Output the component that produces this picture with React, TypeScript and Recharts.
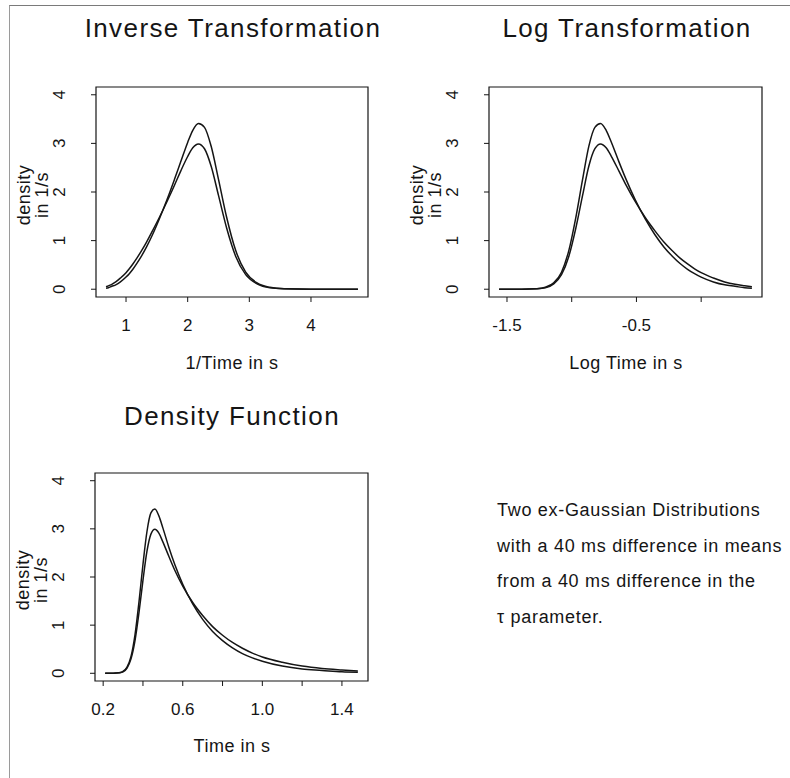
import React from 'react';
import { LineChart, Line, XAxis, YAxis, ReferenceArea } from 'recharts';

const TIME_S = [0.21, 0.25, 0.28, 0.30, 0.32, 0.34, 0.36, 0.38, 0.40, 0.42, 0.44, 0.46, 0.48, 0.50, 0.53, 0.56, 0.60, 0.65, 0.70, 0.75, 0.80, 0.85, 0.90, 0.95, 1.00, 1.10, 1.20, 1.30, 1.40, 1.48];
const INV_TIME = [4.762, 4.0, 3.571, 3.333, 3.125, 2.941, 2.778, 2.632, 2.5, 2.381, 2.273, 2.174, 2.083, 2.0, 1.887, 1.786, 1.667, 1.538, 1.429, 1.333, 1.25, 1.176, 1.111, 1.053, 1.0, 0.909, 0.833, 0.769, 0.714, 0.676];
const LOG_TIME = [-1.561, -1.386, -1.273, -1.204, -1.139, -1.079, -1.022, -0.968, -0.916, -0.868, -0.821, -0.777, -0.734, -0.693, -0.635, -0.580, -0.511, -0.431, -0.357, -0.288, -0.223, -0.163, -0.105, -0.051, 0.0, 0.095, 0.182, 0.262, 0.336, 0.392];
const DENSITY_A = [0.00, 0.00, 0.01, 0.04, 0.13, 0.35, 0.80, 1.48, 2.26, 2.94, 3.33, 3.41, 3.27, 3.02, 2.62, 2.26, 1.85, 1.44, 1.12, 0.87, 0.68, 0.53, 0.41, 0.32, 0.25, 0.15, 0.09, 0.06, 0.03, 0.02];
const DENSITY_B = [0.00, 0.00, 0.01, 0.03, 0.11, 0.30, 0.68, 1.26, 1.93, 2.53, 2.89, 2.99, 2.91, 2.73, 2.43, 2.14, 1.81, 1.47, 1.20, 0.97, 0.79, 0.64, 0.52, 0.42, 0.34, 0.23, 0.15, 0.10, 0.07, 0.05];

const Y_TICKS = [0, 1, 2, 3, 4];
const INV_TICKS = [1, 2, 3, 4];
const INV_TICK_LABELS = ['1', '2', '3', '4'];
const LOG_TICKS = [-1.5, -1.0, -0.5, 0];
const LOG_TICK_LABELS = ['-1.5', '', '-0.5', ''];
const TIME_TICKS = [0.2, 0.4, 0.6, 0.8, 1.0, 1.2, 1.4];
const TIME_TICK_LABELS = ['0.2', '', '0.6', '', '1.0', '', '1.4'];

const NOTE_LINES = [
    'Two ex-Gaussian Distributions',
    'with a 40 ms difference in means',
    'from a 40 ms difference in the',
    '\u03c4 parameter.',
];

const FONT = '"Liberation Sans", Arial, Helvetica, sans-serif';
const INK = '#151515';
const Y_DOMAIN: [number, number] = [-0.16, 4.16];

const YTick = (props: any) => {
    const { x, y, payload } = props;
    return (
        <text x={x} y={y} transform={`rotate(-90 ${x} ${y})`} textAnchor="middle"
            fontSize={17} fontFamily={FONT} fill={INK}>
            {payload.value}
        </text>
    );
};

const makeXTick = (ticks: number[], labels: string[]) => (props: any) => {
    const { x, y, payload } = props;
    const i = ticks.findIndex(t => Math.abs(t - payload.value) < 1e-6);
    const label = i >= 0 ? labels[i] : '';
    return (
        <text x={x} y={y} textAnchor="middle" fontSize={17} fontFamily={FONT} fill={INK}>
            {label}
        </text>
    );
};

interface PanelProps {
    boxLeft: number;
    boxTop: number;
    boxRight: number;
    boxBottom: number;
    xs: number[];
    xDomain: [number, number];
    xTicks: number[];
    xTickLabels: string[];
}

function Panel({ boxLeft, boxTop, boxRight, boxBottom, xs, xDomain, xTicks, xTickLabels }: PanelProps) {
    const padL = 60, padT = 10, padR = 12, axisH = 45, padB = 5;
    const width = padL + (boxRight - boxLeft) + padR;
    const height = padT + (boxBottom - boxTop) + axisH + padB;
    const rows = xs
        .map((x, i) => ({ x, a: DENSITY_A[i], b: DENSITY_B[i] }))
        .sort((p, q) => p.x - q.x);

    return (
        <div style={{ position: 'absolute', left: boxLeft - padL, top: boxTop - padT }}>
            <LineChart width={width} height={height} data={rows}
                margin={{ top: padT, right: padR, bottom: padB, left: 0 }}>
                <XAxis dataKey="x" type="number" domain={xDomain} ticks={xTicks} interval={0}
                    allowDataOverflow axisLine={false} stroke={INK} tickSize={5} tickMargin={29}
                    height={axisH} tick={makeXTick(xTicks, xTickLabels)} />
                <YAxis type="number" domain={Y_DOMAIN} ticks={Y_TICKS} interval={0} allowDataOverflow
                    width={padL} axisLine={false} stroke={INK} tickSize={5} tickMargin={26}
                    tick={<YTick />} />
                <ReferenceArea x1={xDomain[0]} x2={xDomain[1]} y1={Y_DOMAIN[0]} y2={Y_DOMAIN[1]}
                    fill="none" fillOpacity={0} stroke={INK} strokeWidth={1.2} ifOverflow="visible" />
                <Line type="monotone" dataKey="a" stroke={INK} strokeWidth={1.5} dot={false}
                    isAnimationActive={false} />
                <Line type="monotone" dataKey="b" stroke={INK} strokeWidth={1.5} dot={false}
                    isAnimationActive={false} />
            </LineChart>
        </div>
    );
}

const TITLES = [
    { text: 'Inverse Transformation', x: 233, y: 37 },
    { text: 'Log Transformation', x: 627, y: 37 },
    { text: 'Density Function', x: 232, y: 425 },
];

const AXIS_TITLES = [
    { text: '1/Time in s', x: 232, y: 369 },
    { text: 'Log Time in s', x: 626, y: 369 },
    { text: 'Time in s', x: 232, y: 752 },
];

const Y_TITLE_SPOTS = [
    { boxLeft: 96, cy: 195 },
    { boxLeft: 489, cy: 195 },
    { boxLeft: 95, cy: 580 },
];

export default function App() {
    return (
        <div style={{ position: 'absolute', left: 0, top: 0, width: 790, height: 778, background: '#fff', fontFamily: FONT, overflow: 'hidden' }}>
            {/* scanned page edge */}
            <div style={{ position: 'absolute', left: 9, top: 5, width: 781, height: 773, borderLeft: '1px solid #9a9a9a', borderTop: '1px solid #7a7a7a' }} />

            <Panel boxLeft={96} boxTop={87} boxRight={368} boxBottom={297} xs={INV_TIME}
                xDomain={[0.513, 4.925]} xTicks={INV_TICKS} xTickLabels={INV_TICK_LABELS} />
            <Panel boxLeft={489} boxTop={87} boxRight={762} boxBottom={297} xs={LOG_TIME}
                xDomain={[-1.639, 0.470]} xTicks={LOG_TICKS} xTickLabels={LOG_TICK_LABELS} />
            <Panel boxLeft={95} boxTop={473} boxRight={368} boxBottom={681} xs={TIME_S}
                xDomain={[0.159, 1.531]} xTicks={TIME_TICKS} xTickLabels={TIME_TICK_LABELS} />

            <svg width={790} height={778} style={{ position: 'absolute', left: 0, top: 0, pointerEvents: 'none' }}>
                {TITLES.map(t => (
                    <text key={t.text} x={t.x} y={t.y} textAnchor="middle" fontSize={26}
                        letterSpacing={1.4} fontFamily={FONT} fill={INK}>{t.text}</text>
                ))}
                {AXIS_TITLES.map(t => (
                    <text key={t.text} x={t.x} y={t.y} textAnchor="middle" fontSize={18}
                        letterSpacing={0.5} fontFamily={FONT} fill={INK}>{t.text}</text>
                ))}
                {Y_TITLE_SPOTS.map((s, i) => (
                    <g key={i} fontSize={18} fontFamily={FONT} fill={INK} textAnchor="middle" letterSpacing={0.5}>
                        <text x={s.boxLeft - 66} y={s.cy} transform={`rotate(-90 ${s.boxLeft - 66} ${s.cy})`}>density</text>
                        <text x={s.boxLeft - 48} y={s.cy} transform={`rotate(-90 ${s.boxLeft - 48} ${s.cy})`}>in 1/s</text>
                    </g>
                ))}
                {NOTE_LINES.map((line, i) => (
                    <text key={i} x={497} y={516 + i * 35.7} fontSize={18} letterSpacing={0.7}
                        fontFamily={FONT} fill={INK}>{line}</text>
                ))}
            </svg>
        </div>
    );
}
